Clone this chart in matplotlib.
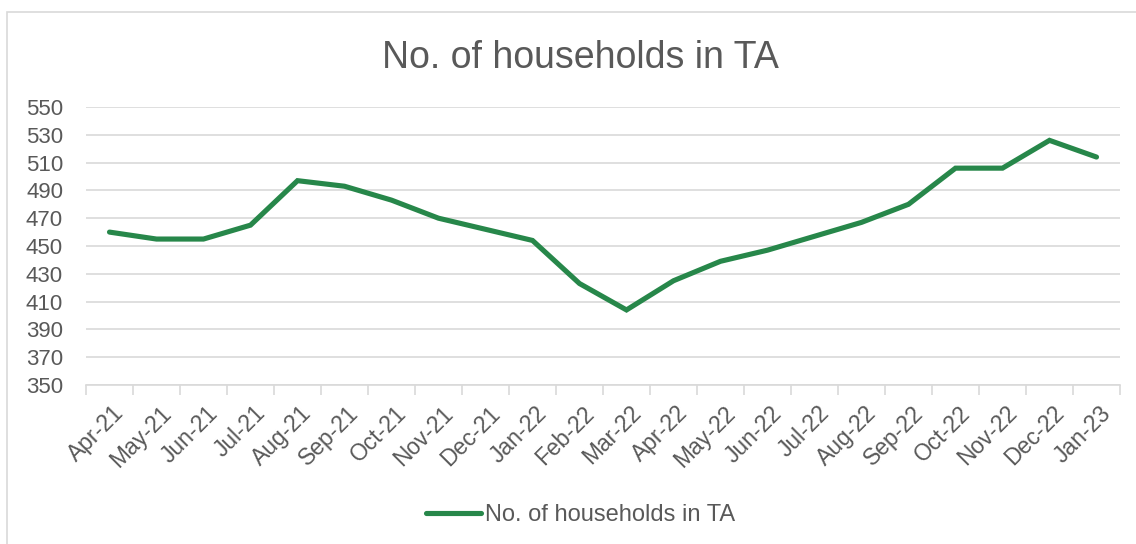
import numpy as np
from matplotlib import pyplot as plt
from matplotlib.patches import Rectangle

months = ['Apr-21', 'May-21', 'Jun-21', 'Jul-21', 'Aug-21', 'Sep-21', 'Oct-21',
          'Nov-21', 'Dec-21', 'Jan-22', 'Feb-22', 'Mar-22', 'Apr-22', 'May-22',
          'Jun-22', 'Jul-22', 'Aug-22', 'Sep-22', 'Oct-22', 'Nov-22', 'Dec-22',
          'Jan-23']
households = [460, 455, 455, 465, 497, 493, 483, 470, 462, 454, 423, 404,
              425, 439, 447, 457, 467, 480, 506, 506, 526, 514]
y_ticks = list(range(350, 551, 20))

plt.rcParams['font.family'] = ['Liberation Sans', 'DejaVu Sans']
text_col = '#595959'
grid_col = '#d9d9d9'
line_col = '#27874a'

W, H = 1136, 544
fig = plt.figure(figsize=(W / 100, H / 100), dpi=100)
# plot area in pixels: x 86..1120, y 107..385
ax = fig.add_axes([86 / W, 1 - 385 / H, (1120 - 86) / W, (385 - 107) / H])

# chart border
fig.patches.append(Rectangle((7 / W, -0.1), 1.2, 1 - 12 / H + 0.1,
                             transform=fig.transFigure, fill=False,
                             edgecolor='#d9d9d9', linewidth=1.2))

x = np.arange(len(months))
ax.plot(x, households, color=line_col, linewidth=3.7, solid_capstyle='round',
        solid_joinstyle='miter', label='No. of households in TA', zorder=3)

ax.set_xlim(-0.5, len(months) - 0.5)
ax.set_ylim(350, 550)
ax.set_yticks(y_ticks)
ax.yaxis.grid(True, color=grid_col, linewidth=1.2)
ax.set_axisbelow(True)

ax.set_xticks(x + 0.06)
ax.set_xticklabels(months, rotation=45, ha='right', rotation_mode='anchor')
ax.set_xticks(np.arange(-0.5, len(months)), minor=True)
ax.tick_params(axis='x', which='major', length=0, pad=12, labelsize=16.5,
               labelcolor=text_col)
ax.tick_params(axis='x', which='minor', length=7, color=grid_col, width=1.2)
ax.tick_params(axis='y', length=0, pad=16.5, labelsize=16, labelcolor=text_col)

for s in ['top', 'right', 'left']:
    ax.spines[s].set_visible(False)
ax.spines['bottom'].set_color(grid_col)
ax.spines['bottom'].set_linewidth(1.2)

fig.text(580 / W, 1 - 68 / H, 'No. of households in TA', ha='center',
         va='baseline', fontsize=27, color=text_col)

leg = fig.legend(loc='center', bbox_to_anchor=(581 / W, 1 - 515 / H),
                 frameon=False, fontsize=17, handlelength=2.3,
                 handletextpad=0.2, labelcolor=text_col)

fig.savefig('out.png', dpi=100)
